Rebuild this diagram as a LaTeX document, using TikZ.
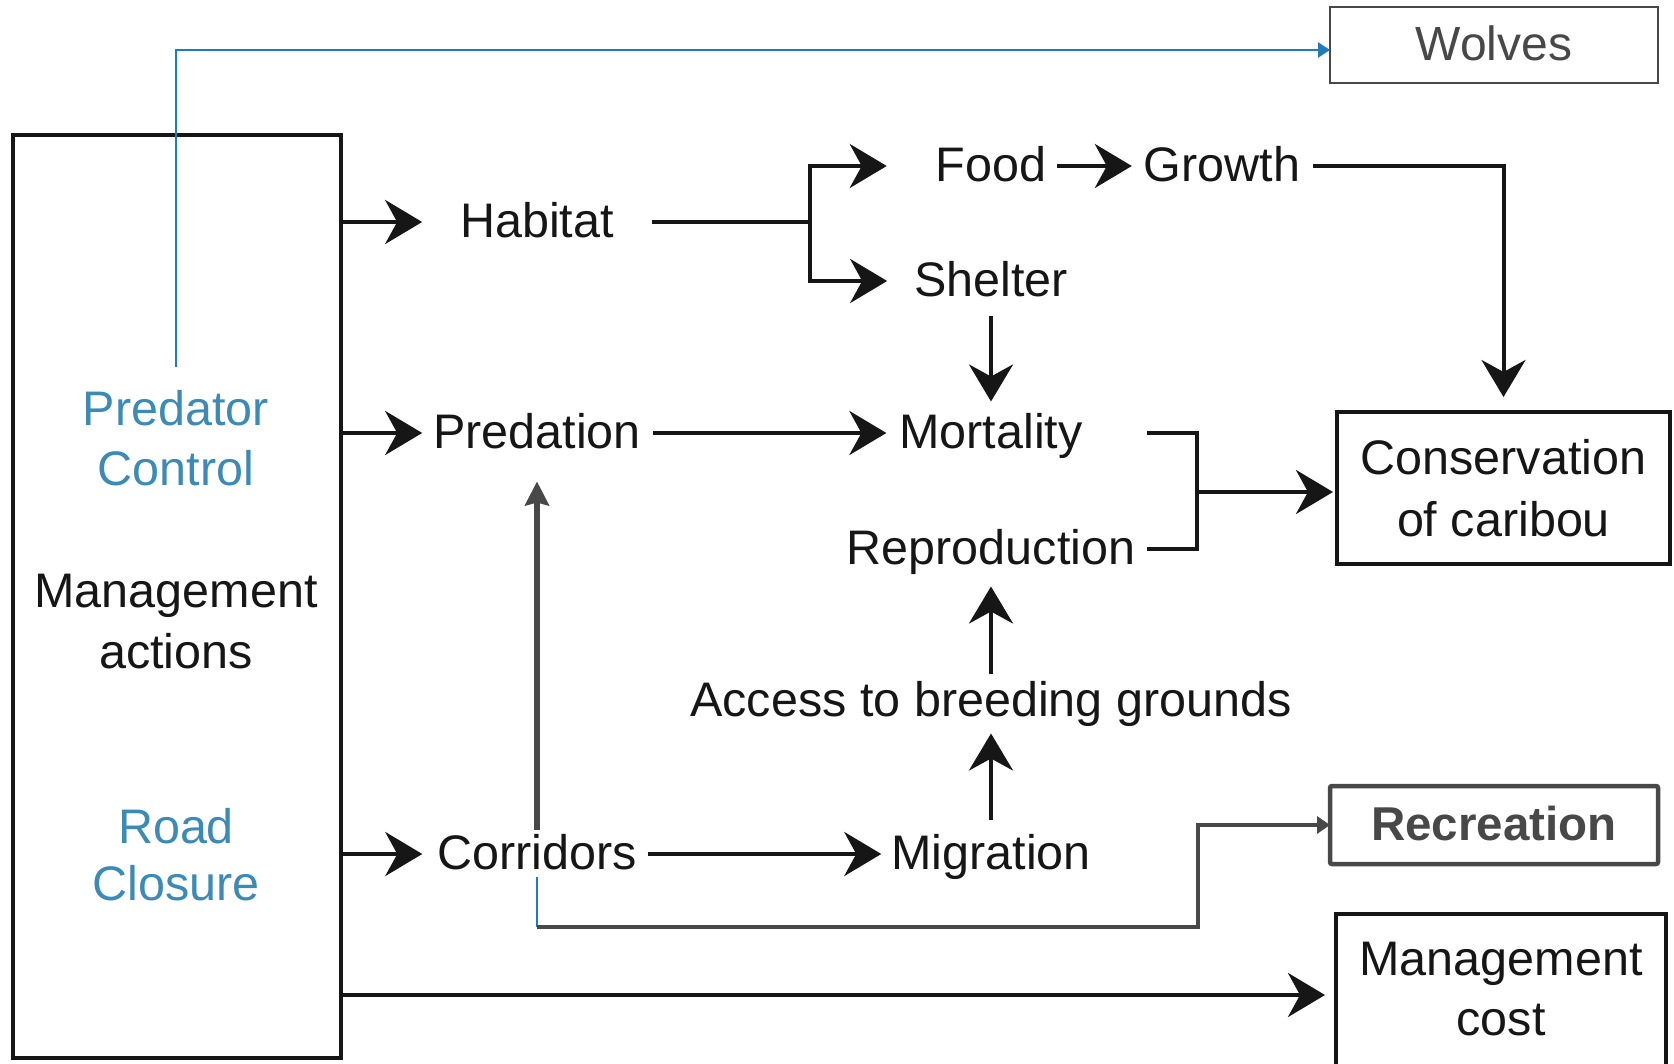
\documentclass[tikz,border=0pt]{standalone}
\usepackage{fontspec}
\setmainfont{Liberation Sans}
\usetikzlibrary{arrows.meta}

\definecolor{ctrlblue}{RGB}{60,138,182}
\definecolor{linkblue}{RGB}{30,125,185}
\definecolor{boxgray}{RGB}{72,72,72}
\definecolor{ink}{RGB}{22,22,22}

\begin{document}
\begin{tikzpicture}[x=1pt,y=-1pt,
  every node/.style={font=\fontsize{48.5}{58}\selectfont, inner sep=0pt, outer sep=0pt, text=ink},
  lbl/.style={text height=31pt, text depth=0pt},
  link/.style={line width=4pt, draw=ink},
  big/.style={-{Stealth[length=37pt,width=44pt,inset=12pt]}},
  frame/.style={draw=ink, line width=4.5pt},
  grayline/.style={line width=4.5pt, draw=boxgray, -{Triangle[length=13pt,width=17pt]}},
  blueline/.style={line width=2.5pt, draw=linkblue, -{Triangle[length=12pt,width=15pt]}},
]
\useasboundingbox (0,0) rectangle (1674,1064);
\fill[white] (0,0) rectangle (1674,1064);

% management actions column
\node[frame, minimum width=328pt, minimum height=923pt, anchor=north west] (mgmt) at (13,135) {};
\node[anchor=north, align=center, font=\fontsize{48.5}{60}\selectfont, text=ctrlblue] (pc) at (176,390) {Predator\\Control};
\node[anchor=north, align=center, font=\fontsize{48.5}{61}\selectfont] (acts) at (176,574) {Management\\actions};
\node[anchor=north, align=center, font=\fontsize{48.5}{57}\selectfont, text=ctrlblue] (rc) at (176,808) {Road\\Closure};

% intermediate factors
\node[lbl] (habitat)   at (537,222) {Habitat};
\node[lbl] (predation) at (537,433) {Predation};
\node[lbl] (corridors) at (537,854) {Corridors};
\node[lbl] (food)      at (991,166) {Food};
\node[lbl] (growth)    at (1222,166) {Growth};
\node[lbl] (shelter)   at (991,281) {Shelter};
\node[lbl] (mortality) at (991,433) {Mortality};
\node[lbl] (repro)     at (991,549) {Reproduction};
\node[lbl] (access)    at (991,701) {Access to breeding grounds};
\node[lbl] (migration) at (991,854) {Migration};

% outcomes
\node[draw=boxgray, line width=2pt, minimum width=328pt, minimum height=76pt,
      font=\fontsize{48}{58}\selectfont, text=boxgray, lbl] (wolves) at (1494,45) {Wolves};
\node[frame, minimum width=333pt, minimum height=152pt, align=center,
      font=\fontsize{48.5}{62}\selectfont] (cons) at (1503.5,488) {Conservation\\of caribou};
\node[draw=boxgray, line width=4.5pt, rounded corners=2pt, minimum width=328pt, minimum height=78pt,
      font=\fontsize{47.5}{58}\selectfont\bfseries, text=boxgray, lbl] (recreation) at (1494,825) {Recreation};
\node[draw=ink, line width=4pt, minimum width=330pt, minimum height=200pt, anchor=north west] (mcost) at (1336,914) {};
\node[anchor=north, align=center, font=\fontsize{48.5}{60}\selectfont] (mcosttxt) at (1501,942) {Management\\cost};

% junction points
\coordinate (split) at (810,222);
\coordinate (brk) at (1197,492);
\coordinate (costrow) at (0,995);
\coordinate (recturn) at (1198,927);

% actions into the factors
\draw[link,big] (mgmt.east |- habitat.west) -- ([xshift=-38pt]habitat.west);
\draw[link,big] (mgmt.east |- predation.west) -- ([xshift=-11pt]predation.west);
\draw[link,big] (mgmt.east |- corridors.west) -- ([xshift=-15pt]corridors.west);
\draw[link,big] (mgmt.east |- costrow) -- ([xshift=-11pt]costrow -| mcost.west);

% habitat branch
\draw[link] ([xshift=38pt]habitat.east) -- (split);
\draw[link,big] (split) |- ([xshift=-49pt]food.west);
\draw[link,big] (split) |- ([xshift=-27pt]shelter.west);
\draw[link,big] ([xshift=11pt]food.east) -- ([xshift=-12pt]growth.west);
\draw[link,big] ([xshift=13pt]growth.east) -| ([yshift=15pt]cons.north);
\draw[link,big] ([yshift=-20pt]shelter.south) -- ([yshift=16pt]mortality.north);

% predation and demography
\draw[link,big] ([xshift=12pt]predation.east) -- ([xshift=-13pt]mortality.west);
\draw[link] ([xshift=64pt]mortality.east) -| (brk) |- ([xshift=12pt]repro.east);
\draw[link,big] (brk) -- ([xshift=-4pt]brk -| cons.west);

% corridors branch
\draw[link,big] ([xshift=11pt]corridors.east) -- ([xshift=-10pt]migration.west);
\draw[link,big] ([yshift=19pt]migration.north) -- ([yshift=-17pt]access.south);
\draw[link,big] ([yshift=12pt]access.north) -- ([yshift=-22pt]repro.south);
\draw[line width=6pt, draw=boxgray, -{Stealth[length=24pt,width=24pt,inset=3pt]}]
  ([yshift=9pt]corridors.north) -- ([yshift=-33pt]predation.south);
\draw[line width=1.5pt, draw=linkblue] ([yshift=-7pt]corridors.south) -- (corridors.south |- recturn);
\draw[grayline] (corridors.south |- recturn) -- (recturn) |- (recreation.west);

% predator control to wolves
\draw[blueline] ([yshift=23pt]pc.north) |- ([yshift=-5pt]wolves.west);
\end{tikzpicture}
\end{document}
